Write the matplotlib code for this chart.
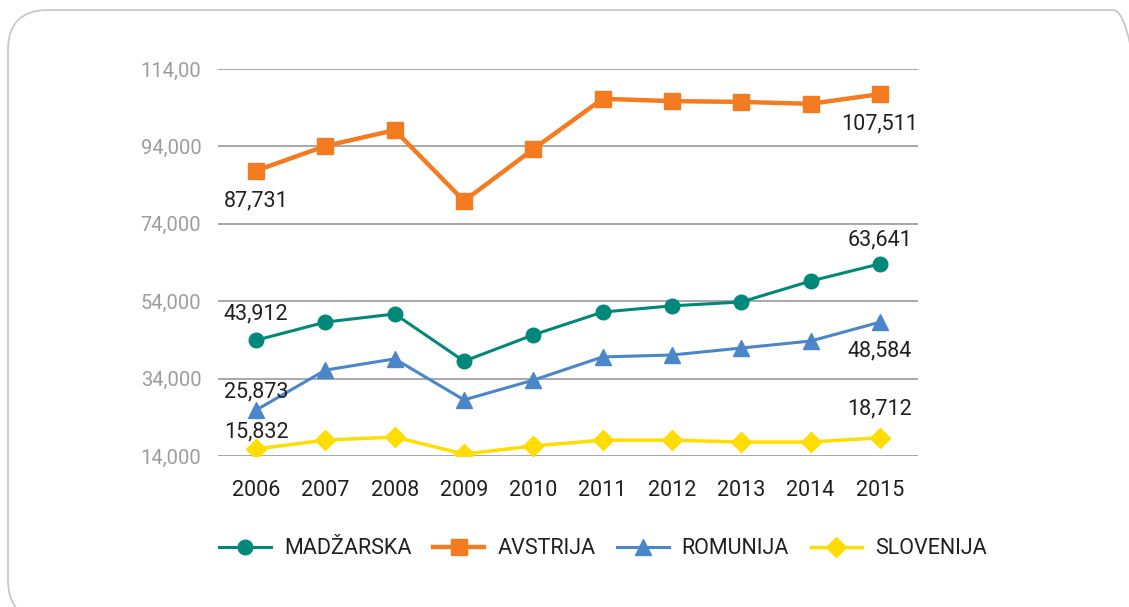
import matplotlib
matplotlib.use("Agg")
from matplotlib import pyplot as plt
from matplotlib.patches import FancyBboxPatch

years = ['2006', '2007', '2008', '2009', '2010', '2011', '2012', '2013', '2014', '2015']
madzarska = [43.912, 48.6, 50.7, 38.5, 45.3, 51.2, 52.8, 53.8, 59.2, 63.641]
avstrija = [87.731, 94.1, 98.2, 79.9, 93.3, 106.3, 105.7, 105.5, 105.0, 107.511]
romunija = [25.873, 36.2, 39.1, 28.5, 33.6, 39.6, 40.1, 41.9, 43.7, 48.584]
slovenija = [15.832, 18.1, 18.9, 14.5, 16.6, 18.1, 18.1, 17.6, 17.6, 18.712]

y_ticks = [14, 34, 54, 74, 94, 114]
y_labels = ['14,000', '34,000', '54,000', '74,000', '94,000', '114,00']

plt.rcParams['font.family'] = ['Roboto', 'DejaVu Sans']

W, H = 1129, 607
fig = plt.figure(figsize=(W / 100, H / 100), dpi=100)

# rounded frame around the chart (inches, runs off right and bottom edge)
frame = FancyBboxPatch((0.08, -0.13), 11.45, 6.10,
                       boxstyle="round,pad=0,rounding_size=0.4",
                       transform=fig.dpi_scale_trans, fill=False,
                       edgecolor='#c8c8c8', linewidth=1.3)
fig.patches.append(frame)

ax = fig.add_axes([218 / W, 1 - 456 / H, 700 / W, 387 / H])
x = range(len(years))

ax.plot(x, madzarska, color='#00897b', lw=2.2, marker='o', ms=10.5, label='MADŽARSKA', zorder=3)
ax.plot(x, avstrija, color='#f47b20', lw=3.2, marker='s', ms=11, label='AVSTRIJA', zorder=3)
ax.plot(x, romunija, color='#4a86c8', lw=2.2, marker='^', ms=11, label='ROMUNIJA', zorder=3)
ax.plot(x, slovenija, color='#ffdd00', lw=2.5, marker='D', ms=10, label='SLOVENIJA', zorder=3)

def lab(i, v, dy):
    ax.annotate(f"{v:.3f}".replace('.', ','), (i, v), xytext=(0, dy),
                textcoords='offset pixels', ha='center', va='center',
                fontsize=15.5, color='#231f20', zorder=4)

lab(0, avstrija[0], -30)
lab(9, avstrija[9], -30)
lab(0, madzarska[0], 26)
lab(9, madzarska[9], 24)
lab(0, romunija[0], 18)
lab(9, romunija[9], -29)
lab(0, slovenija[0], 17)
lab(9, slovenija[9], 29)

ax.set_xlim(-0.55, 9.55)
ax.set_ylim(14, 114)
ax.set_yticks(y_ticks)
ax.set_yticklabels(y_labels)
ax.set_xticks(list(x))
ax.set_xticklabels(years)
ax.tick_params(axis='y', length=0, pad=12, labelsize=14.5, labelcolor='#9d9d9d')
ax.tick_params(axis='x', length=0, pad=17, labelsize=15.5, labelcolor='#231f20')
ax.grid(axis='y', color='#9a9a9a', lw=1.2)
ax.set_axisbelow(True)
for s in ax.spines.values():
    s.set_visible(False)

fig.legend(loc='center', bbox_to_anchor=(603 / W, 1 - 549 / H), ncol=4,
           frameon=False, fontsize=15.5, handlelength=2.4, columnspacing=1.0,
           handletextpad=0.6, labelcolor='#231f20')

fig.savefig('out.png', dpi=100)
